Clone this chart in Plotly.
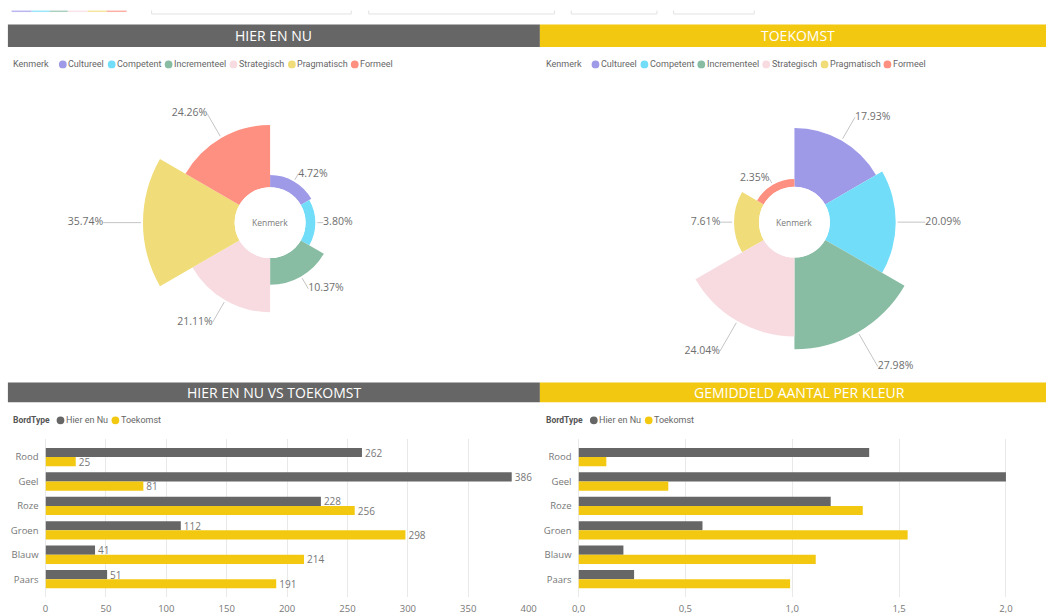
import plotly.graph_objects as go

W, H = 1046, 615
FONT = "Open Sans"
LFONT = "Roboto"

# ---------------- data ----------------
kenmerk = ["Cultureel", "Competent", "Incrementeel", "Strategisch", "Pragmatisch", "Formeel"]
kenmerk_colors = ["#9E9AE8", "#72DDF9", "#88BDA4", "#F7DBE1", "#F0DC78", "#FD9080"]
hier_pct = [4.72, 3.80, 10.37, 21.11, 35.74, 24.26]
toek_pct = [17.93, 20.09, 27.98, 24.04, 7.61, 2.35]

kleuren = ["Rood", "Geel", "Roze", "Groen", "Blauw", "Paars"]
hier_count = [262, 386, 228, 112, 41, 51]
toek_count = [25, 81, 256, 298, 214, 191]
hier_avg = [1.36, 2.00, 1.18, 0.58, 0.21, 0.26]
toek_avg = [0.13, 0.42, 1.33, 1.54, 1.11, 0.99]

series_names = ["Hier en Nu", "Toekomst"]
series_colors = ["#666666", "#F2C811"]

GRAY = "#666666"
YELLOW = "#F2C811"

# observed horizontal mapping of the rendering pipeline (css px -> picture px)
SX, OX = 0.9875, 7.1


def css_x(x):
    return (x - OX) / SX


def px(x):
    return css_x(x) / W


def py(y):
    return 1 - y / H


fig = go.Figure()

# ---------------- rose charts ----------------
HOLE_PX, OUTER_PX, RC = 36, 129, 178


def add_rose(values, cx, cy, name):
    vmax = max(values)
    k = (RC - HOLE_PX) / (OUTER_PX - HOLE_PX)
    n = len(values)
    step = 360 / n
    thetas = [step * i + step / 2 for i in range(n)]
    fig.add_trace(go.Barpolar(
        r=values, theta=thetas, width=[step] * n,
        marker=dict(color=kenmerk_colors, line=dict(width=0)),
        subplot=name, showlegend=False, hoverinfo="skip"))

    def r_of_px(p):
        return (p - HOLE_PX) / (OUTER_PX - HOLE_PX) * vmax

    lr, lt, tr, tt, tp, tx = [], [], [], [], [], []
    for v, t in zip(values, thetas):
        o = HOLE_PX + v / vmax * (OUTER_PX - HOLE_PX)
        s = o + 2
        e = max(o + 6, 1.39 * o - 10)
        lr += [r_of_px(s), r_of_px(e), None]
        lt += [t, t, None]
        tr.append(r_of_px(e))
        tt.append(t)
        tp.append("middle right" if t < 180 else "middle left")
        tx.append(f"{v:.2f}%")
    fig.add_trace(go.Scatterpolar(
        r=lr, theta=lt, mode="lines", line=dict(color="#c4c4c4", width=1),
        subplot=name, showlegend=False, hoverinfo="skip"))
    fig.add_trace(go.Scatterpolar(
        r=tr, theta=tt, mode="text", text=tx, textposition=tp,
        textfont=dict(size=10.5, color="#6e6e6e", family=FONT),
        cliponaxis=False, subplot=name, showlegend=False, hoverinfo="skip"))
    ccx = css_x(cx)
    fig.update_layout(**{name: dict(
        domain=dict(x=[(ccx - RC) / W, (ccx + RC) / W], y=[py(cy + RC), py(cy - RC)]),
        hole=HOLE_PX / RC,
        bgcolor="rgba(0,0,0,0)",
        radialaxis=dict(range=[0, vmax * k], visible=False),
        angularaxis=dict(rotation=90, direction="clockwise", visible=False),
    )})
    fig.add_annotation(x=px(cx), y=py(cy), xref="paper", yref="paper",
                       xanchor="center", yanchor="middle",
                       text="Kenmerk", showarrow=False,
                       font=dict(size=8.5, color="#7a7a7a", family=FONT))


add_rose(hier_pct, 270.7, 223, "polar")
add_rose(toek_pct, 796, 222.5, "polar2")

# ---------------- bar charts ----------------
for vals, nm, col in zip([hier_count, toek_count], series_names, series_colors):
    fig.add_trace(go.Bar(
        y=kleuren, x=vals, orientation="h", name=nm, marker=dict(color=col, line=dict(width=0)),
        text=vals, textposition="outside", cliponaxis=False, constraintext="none",
        textfont=dict(size=10, color="#777777", family=FONT),
        xaxis="x", yaxis="y", showlegend=False, hoverinfo="skip"))
for vals, nm, col in zip([hier_avg, toek_avg], series_names, series_colors):
    fig.add_trace(go.Bar(
        y=kleuren, x=vals, orientation="h", name=nm, marker=dict(color=col, line=dict(width=0)),
        xaxis="x2", yaxis="y2", showlegend=False, hoverinfo="skip"))

n_cat = len(kleuren)
cat_range = [n_cat - 1 + 0.73, -0.73]
ax_common = dict(showgrid=True, gridcolor="#e9e9e9", gridwidth=1, zeroline=True,
                 zerolinecolor="#e9e9e9", zerolinewidth=1, showline=False, ticks="",
                 ticklabelstandoff=4,
                 tickfont=dict(size=9.5, color="#777777", family=FONT), fixedrange=True)
ycommon = dict(type="category", categoryorder="array", categoryarray=kleuren,
               range=cat_range, showgrid=False, zeroline=False, showline=False, ticks="",
               ticklabelstandoff=6,
               tickfont=dict(size=9.5, color="#777777", family=FONT), fixedrange=True)

fig.update_layout(
    xaxis=dict(domain=[px(45.7), px(529.7)], range=[0, 400], dtick=50, anchor="y", **ax_common),
    yaxis=dict(domain=[py(598), py(440)], anchor="x", **ycommon),
    xaxis2=dict(domain=[px(579.7), min(1.0, px(1040.5))], range=[0, 2.15], dtick=0.5, tickformat=".1f",
                anchor="y2", **ax_common),
    yaxis2=dict(domain=[py(598), py(440)], anchor="x2", **ycommon),
    barmode="group", bargap=0.25, bargroupgap=0,
    separators=",.",
)

# ---------------- decorations ----------------
shapes = []
annotations = []


def rect(x0, y0, x1, y1, color):
    shapes.append(dict(type="rect", xref="paper", yref="paper", x0=px(x0), x1=px(x1),
                       y0=py(y1), y1=py(y0), fillcolor=color, line=dict(width=0), layer="below"))


def text(x, y, s, size, color, anchor="left", bold=False, family=FONT):
    annotations.append(dict(x=px(x), y=py(y), xref="paper", yref="paper", text=(f"<b>{s}</b>" if bold else s),
                            showarrow=False, xanchor=anchor, yanchor="middle",
                            font=dict(size=size, color=color, family=family)))


def dot(x, y, color, r=3.9):
    shapes.append(dict(type="circle", xref="paper", yref="paper", x0=px(x - r), x1=px(x + r),
                       y0=py(y + r), y1=py(y - r), fillcolor=color, line=dict(width=0), layer="below"))


# header bars
rect(8, 24.5, 541, 47, GRAY)
rect(541, 24.5, 1060, 47, YELLOW)
rect(8, 383, 541, 403, GRAY)
rect(541, 383, 1060, 403, YELLOW)
text(274.5, 36, "HIER EN NU", 14, "white", "center")
text(800, 36, "TOEKOMST", 14, "white", "center")
text(275, 393.5, "HIER EN NU VS TOEKOMST", 14, "white", "center")
text(800.8, 393.5, "GEMIDDELD AANTAL PER KLEUR", 14, "white", "center")

# cut-off slicers at the top
for x0, x1 in [(152, 352), (369.5, 555.7), (572.3, 658.3), (675, 755.7)]:
    shapes.append(dict(type="path", xref="paper", yref="paper",
                       path=f"M {px(x0)},{py(10.5)} L {px(x0)},{py(14)} L {px(x1)},{py(14)} L {px(x1)},{py(10.5)}",
                       line=dict(color="#e2e2e2", width=1)))
seg_edges = [11.7, 31.7, 50, 68, 88, 107, 127]
for i, c in enumerate(kenmerk_colors):
    shapes.append(dict(type="line", xref="paper", yref="paper", x0=px(seg_edges[i]), x1=px(seg_edges[i + 1]),
                       y0=py(11.3), y1=py(11.3), line=dict(color=c, width=1.5), opacity=0.7))

# legends of the rose charts
kenmerk_offsets = [0, 49, 106, 171, 229.5, 292.5]
for x_title, x_first in [(11, 63), (545, 596.7)]:
    text(x_title, 64.5, "Kenmerk", 9, "#666666", family=LFONT)
    for off, name, col in zip(kenmerk_offsets, kenmerk, kenmerk_colors):
        dot(x_first + off, 64.5, col)
        text(x_first + off + 3.5, 64.5, name, 9, "#666666", family=LFONT)

# legends of the bar charts
for x_title, dots in [(11.5, [60.7, 115.7]), (545, [595, 650])]:
    text(x_title, 421, "BordType", 8.5, "#555555", bold=True, family=LFONT)
    for xd, name, col in zip(dots, series_names, series_colors):
        dot(xd, 421, col)
        text(xd + 3.5, 421, name, 9, "#666666", family=LFONT)

fig.update_layout(
    shapes=shapes, annotations=list(fig.layout.annotations) + annotations,
    width=W, height=H, autosize=False,
    margin=dict(l=0, r=0, t=0, b=0),
    paper_bgcolor="white", plot_bgcolor="rgba(0,0,0,0)",
    font=dict(family=FONT, color="#666666"),
    showlegend=False,
)

fig.write_html(
    "out.html",
    config={"displayModeBar": False},
    post_script="document.body.style.margin='0';document.body.style.padding='0';"
                "document.body.style.overflow='hidden';document.documentElement.style.overflow='hidden';",
)
